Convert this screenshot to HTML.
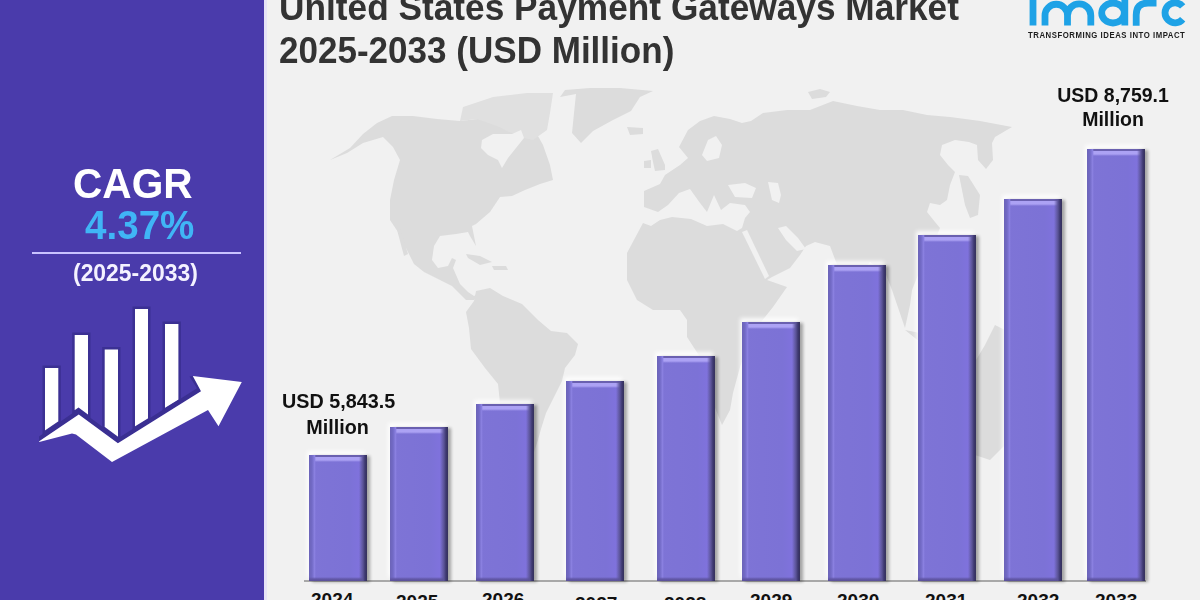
<!DOCTYPE html>
<html><head><meta charset="utf-8">
<style>
*{margin:0;padding:0;box-sizing:border-box}
html,body{width:1200px;height:600px;overflow:hidden;background:#f1f1f1;font-family:"Liberation Sans",sans-serif}
#left{position:absolute;left:0;top:0;width:264px;height:600px;background:#4a3bab}
#strip{position:absolute;left:264px;top:0;width:3px;height:600px;background:#e6e3f7}
.t{position:absolute;white-space:nowrap;font-weight:bold}
.bar{position:absolute;bottom:19px;width:58px;
 background:
  linear-gradient(to left,#35315a 0,#3d3870 2px,#5a5396 4px,rgba(118,108,205,0) 8px),
  linear-gradient(to top,#5a5198 0,#6258a8 2px,rgba(110,100,190,0) 4px),
  linear-gradient(to right,#6c64b8 0,#726ac6 3px,#8a80e0 5.5px,rgba(126,116,214,0) 7px),
  linear-gradient(to bottom,#6a60b0 0,#6a60b0 1.5px,#aca2f4 2.5px,#aca2f4 5px,rgba(126,116,214,0) 7px),
  linear-gradient(to right,#7e74d6 0,#7c72d6 70%,#7f72dc 85%,#7c72d2 100%);
 box-shadow:3px 1px 3px rgba(0,0,0,0.32),-2px -4px 4px rgba(255,255,255,0.85)}
.yr{position:absolute;top:589px;font-size:19px;font-weight:bold;color:#111;white-space:nowrap}
</style></head><body>
<div id="left"></div>
<div id="strip"></div>
<svg id="map" style="position:absolute;left:0;top:0;filter:blur(0.5px)" width="1200" height="600">
 <g fill="#dcdcdc">
  <polygon points="330,160 350,148 363,134 377,123 392,116 413,116 437,119 460,121 477,119 497,118 520,121 533,127 543,145 550,165 553,180 540,184 525,190 512,196 500,197 490,212 476,224 472,226 476,246 470,236 468,232 456,234 440,236 434,246 432,260 438,268 448,266 452,258 456,260 453,268 460,284 468,292 474,296 480,293 474,300 466,300 460,294 452,286 440,280 424,272 414,264 406,248 398,232 390,220 390,200 394,180 400,160 393,147 383,137 363,143 347,153"/>
  <polygon points="396,226 400,228 408,254 404,256"/>
  <polygon fill="#e0e0e0" points="460,121 463,107 493,97 527,93 553,93 550,113 547,130 533,140 520,137 497,126 477,119"/>
  <polygon points="560,97 576,94 574,113 572,133 581,143 593,131 613,120 631,111 640,97 653,91 620,88 590,88 565,90"/>
  <polygon points="627,127 643,128 643,134 630,135"/>
  <polygon points="651,151 658,149 665,165 665,170 655,171 653,162"/>
  <polygon points="644,161 651,160 651,168 644,168"/>
  <polygon points="466,254 480,256 492,262 480,265 468,258"/>
  <polygon points="492,266 506,266 508,270 494,270"/>
  <polygon points="476,291 490,288 503,296 522,304 538,320 551,331 567,333 578,344 575,355 565,368 562,381 554,397 546,413 541,429 538,440 532,458 520,475 508,485 500,470 500,440 500,403 498,384 485,368 471,349 469,328 466,312 474,301"/>
  <polygon points="668,205 679,193 690,189 700,203 707,212 714,195 721,210 730,203 745,205 750,212 745,218 742,228 737,231 723,224 707,226 691,219 672,217 660,220 651,226 643,223 627,253 627,280 637,300 653,310 680,310 687,320 687,337 700,357 707,373 712,400 722,425 730,410 733,393 740,367 747,347 757,327 773,307 780,297 787,287 767,280 772,277 790,268 800,255 806,246 815,242 830,246 836,262 845,282 852,296 858,276 870,262 885,272 892,290 905,328 910,305 912,290 918,275 925,262 933,245 940,228 935,222 927,212 930,203 940,205 947,200 950,185 955,172 948,165 940,155 942,145 955,140 969,142 977,145 978,160 986,169 993,160 992,143 995,137 1012,127 980,121 950,117 927,115 903,110 880,110 857,106 833,101 810,110 787,110 763,113 751,121 742,123 730,119 714,116 700,121 688,130 679,147 688,158 680,165 665,175 660,184 644,191 644,207 658,212"/>
  <polygon points="959,175 968,176 980,195 978,215 970,218 965,205 962,190"/>
  
  <polygon points="808,92 820,89 830,92 826,97 812,99"/>
  <polygon points="905,330 930,335 960,340 975,345 950,348 920,342"/>
  <polygon points="945,390 970,370 985,345 995,325 1005,330 1015,360 1020,400 1010,440 990,460 960,450 940,430"/>
 </g>
 <g fill="#f1f1f1">
  <polygon points="728,185 745,183 756,188 752,198 735,197"/>
  <polygon points="768,182 778,183 781,195 779,203 772,200"/>
  <polygon points="742,232 747,230 769,276 765,279"/>
  <polygon points="778,228 786,226 798,238 806,249 797,251 786,240"/>
  <polygon points="708,140 716,136 722,145 719,158 707,161 702,155"/>
  <polygon points="482,140 493,134 512,134 521,130 524,138 516,148 508,158 502,168 498,160 488,155 481,148"/>
 </g>
</svg>
<div class="t" style="left:73px;top:159.5px;font-size:42px;color:#fff;transform:scaleX(0.968);transform-origin:0 0">CAGR</div>
<div class="t" style="left:85px;top:201.3px;font-size:41.5px;color:#40b5f6;transform:scaleX(0.93);transform-origin:0 0">4.37%</div>
<div style="position:absolute;left:32px;top:252px;width:209px;height:2px;background:#c9c2ff"></div>
<div class="t" style="left:72.5px;top:259.5px;font-size:23.5px;color:#f4f2ff;transform:scaleX(0.975);transform-origin:0 0">(2025-2033)</div>

<svg style="position:absolute;left:0;top:0" width="264" height="600">
 <g fill="#fff" stroke="#3b3093" stroke-width="2.5">
  <polygon points="43.75,366.75 59.55,366.75 59.55,421.95 43.75,432.75"/>
  <polygon points="73.45,333.75 89.25,333.75 89.25,416.97 78.5,409 73.45,412.45"/>
  <polygon points="103.45,348.35 119.25,348.35 119.25,437.53 118,438.3 103.45,427.51"/>
  <polygon points="133.75,307.75 149.25,307.75 149.25,418.98 133.75,428.57"/>
  <polygon points="163.75,322.75 179.65,322.75 179.65,400.19 163.75,410.02"/>
 </g>
 <polygon fill="#3a2f92" points="39.2,441.2 78.75,414.4 117.9,443.2 201,391.3 192.8,376.1 189.5,376.5 197,388.2 118,438.3 78.5,409 39,436.5"/>
 <polygon fill="#fff" points="39.2,441.2 78.75,414.4 117.9,443.2 201,391.3 192.8,376.1 241.8,381.9 218.5,426.3 208,410 112,461.9 76,434.5 72,433.6 39.2,441.9"/>
</svg>

<div class="t" style="left:279px;top:-13px;font-size:36.5px;transform:scaleX(0.966);transform-origin:0 0;color:#333">United States Payment Gateways Market</div>
<div class="t" style="left:279px;top:29.5px;font-size:36.5px;transform:scaleX(0.96);transform-origin:0 0;color:#333">2025-2033 (USD Million)</div>

<svg style="position:absolute;left:1020px;top:0" width="180" height="45" viewBox="1020 0 180 45">
 <g fill="none" stroke="#1ea2e6" stroke-width="6.8">
  <path d="M1033,-3 V25.5"/>
  <path d="M1045,25.5 V15.5 A11.25,11.25 0 0 1 1067.5,15.5 V25.5 M1067.5,15.5 A11.6,11.6 0 0 1 1090.8,15.5 V25.5"/>
  <ellipse cx="1113" cy="13" rx="11.3" ry="10"/>
  <path d="M1124.8,-3 V25.5"/>
  <path d="M1136.2,25.7 V15 Q1136.2,3 1148,3 H1156.5"/>
  <path d="M1182.7,6.4 A10,10 0 1 0 1182.7,19.2"/>
 </g>
</svg>
<div class="t" id="tag" style="left:1028px;top:30px;font-size:8.6px;color:#1c1c1c;letter-spacing:0.6px;transform:scaleX(0.903);transform-origin:0 0">TRANSFORMING IDEAS INTO IMPACT</div>

<div style="position:absolute;left:304px;top:580px;width:842px;height:1.5px;background:#a8a8a8"></div>

<div class="bar" style="left:309px;top:455px"></div>
<div class="bar" style="left:390px;top:427px"></div>
<div class="bar" style="left:476px;top:404px"></div>
<div class="bar" style="left:566px;top:381px"></div>
<div class="bar" style="left:657px;top:356px"></div>
<div class="bar" style="left:742px;top:322px"></div>
<div class="bar" style="left:828px;top:265px"></div>
<div class="bar" style="left:918px;top:235px"></div>
<div class="bar" style="left:1004px;top:199px"></div>
<div class="bar" style="left:1087px;top:149px"></div>

<div class="t" style="left:282px;top:387.5px;font-size:20.8px;color:#111;text-align:center;width:117px;line-height:26.4px;transform:scaleX(0.95);transform-origin:0 0">USD 5,843.5<br>Million</div>
<div class="t" style="left:1057px;top:83px;font-size:20.5px;color:#111;text-align:center;width:118px;line-height:23.5px;transform:scaleX(0.95);transform-origin:0 0">USD 8,759.1<br>Million</div>

<div class="yr" style="left:311px">2024</div>
<div class="yr" style="left:396px;top:590.5px">2025</div>
<div class="yr" style="left:482px">2026</div>
<div class="yr" style="left:575px;top:593px">2027</div>
<div class="yr" style="left:664px;top:593px">2028</div>
<div class="yr" style="left:750px;top:589.5px">2029</div>
<div class="yr" style="left:837px;top:589.5px">2030</div>
<div class="yr" style="left:925px;top:589.5px">2031</div>
<div class="yr" style="left:1017px;top:589.5px">2032</div>
<div class="yr" style="left:1095px;top:589.5px">2033</div>
</body></html>
